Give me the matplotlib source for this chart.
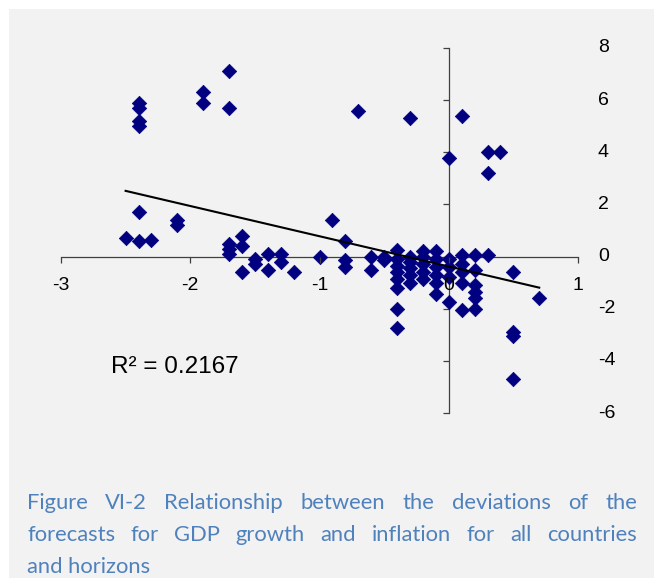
"""
Scatter of forecast deviations: GDP growth (x) vs inflation (y), with linear trend.
Excel-style look: axes crossing at zero, y labels at the far right, caption below.
"""

import numpy as np
import matplotlib
matplotlib.use("Agg")
import matplotlib.pyplot as plt
from matplotlib.patches import Rectangle

W, H = 654, 578

# deviations (x = GDP growth, y = inflation)
gdp_dev = [-2.4, -2.4, -2.4, -2.4, -1.9, -1.9, -1.7, -1.7, -0.7, -0.3, 0.1, 0.0, 0.3, 0.4, 0.3,
           -2.4, -2.5, -2.4, -2.3, -2.1, -2.1, -1.7, -1.7, -1.7, -1.6, -1.6, -1.6,
           -1.5, -1.5, -1.4, -1.4, -1.3, -1.3, -1.2, -1.0, -0.9, -0.8, -0.8, -0.8,
           -0.6, -0.6, -0.5, -0.5,
           -0.4, -0.4, -0.4, -0.4, -0.4, -0.4, -0.4, -0.4,
           -0.3, -0.3, -0.3, -0.3, -0.3,
           -0.2, -0.2, -0.2, -0.2, -0.2,
           -0.1, -0.1, -0.1, -0.1, -0.1, -0.1,
           0.0, 0.0, 0.0, 0.0,
           0.1, 0.1, 0.1, 0.1, 0.1,
           0.2, 0.2, 0.2, 0.2, 0.2, 0.2,
           0.3, 0.5, 0.5, 0.5, 0.5, 0.7]
infl_dev = [5.9, 5.7, 5.2, 5.0, 6.3, 5.9, 7.1, 5.7, 5.6, 5.3, 5.4, 3.8, 4.0, 4.0, 3.2,
            1.7, 0.7, 0.6, 0.65, 1.4, 1.2, 0.5, 0.3, 0.1, 0.8, 0.4, -0.6,
            -0.1, -0.3, 0.1, -0.5, 0.1, -0.2, -0.6, 0.0, 1.4, 0.6, -0.15, -0.4,
            0.0, -0.5, -0.15, 0.0,
            0.25, -0.1, -0.35, -0.6, -0.85, -1.2, -2.0, -2.75,
            0.0, -0.2, -0.45, -0.7, -1.0,
            0.2, 0.0, -0.3, -0.6, -0.85,
            0.2, -0.1, -0.4, -0.7, -1.0, -1.45,
            -0.1, -0.4, -0.8, -1.75,
            0.05, -0.3, -0.6, -1.0, -2.05,
            0.05, -0.5, -1.1, -1.35, -1.6, -2.0,
            0.05, -0.6, -2.9, -3.05, -4.7, -1.6]

# Excel linear trendline as drawn (slope / intercept)
trend_slope = -1.16
trend_intercept = -0.38

x_ticks = [-3, -2, -1, 0, 1]
y_ticks = [-6, -4, -2, 0, 2, 4, 6, 8]
r2_label = "R² = 0.2167"
caption_lines = ["Figure VI-2 Relationship between the deviations of the",
                 "forecasts for GDP growth and inflation for all countries",
                 "and horizons"]

plt.rcParams["font.family"] = ["Liberation Sans", "DejaVu Sans"]

fig = plt.figure(figsize=(W / 100, H / 100), dpi=100)
fig.patch.set_facecolor("white")
# grey page area (white strip on top and left), kept under the axes
fig.patches.append(Rectangle((9 / W, 0), 1, 1 - 9 / H, transform=fig.transFigure,
                             facecolor="#f2f2f2", edgecolor="none", zorder=-1))

# plot area: x -3..1 -> px 61..578, y -6..8 -> px 413..48
ax = fig.add_axes([61 / W, (H - 413) / H, (578 - 61) / W, (413 - 48) / H])
ax.set_facecolor("none")
ax.set_xlim(-3, 1)
ax.set_ylim(-6, 8)

ax.scatter(gdp_dev, infl_dev, marker="D", s=54, color="#000080",
           edgecolors="#000080", linewidths=0.5, zorder=3, clip_on=False)

# trendline spans the data range
xs = np.array([min(gdp_dev), max(gdp_dev)])
ax.plot(xs, trend_slope * xs + trend_intercept, color="black", lw=1.5, zorder=4)

ax.text(-2.61, -4.25, r2_label, fontsize=17.5, color="black", ha="left", va="center")

# axes crossing at zero
for s in ("top", "right"):
    ax.spines[s].set_visible(False)
ax.spines["left"].set_position(("data", 0))
ax.spines["bottom"].set_position(("data", 0))
for s in ("left", "bottom"):
    ax.spines[s].set_color("#404040")
    ax.spines[s].set_linewidth(0.9)

ax.set_xticks(x_ticks)
ax.set_xticklabels([str(t) for t in x_ticks])
ax.set_yticks(y_ticks)
ax.tick_params(axis="x", direction="out", length=4, width=0.9, color="#404040",
               labelsize=14, pad=10.5)
ax.tick_params(axis="y", direction="out", length=4, width=0.9, color="#404040",
               labelleft=False)
ax.xaxis.set_zorder(5)

# y labels sit at the far right, as Excel does with "high" label position
ytr = ax.get_yaxis_transform()
for t in y_ticks:
    ax.text((598 - 61) / (578 - 61), t, str(t), transform=ytr, fontsize=14,
            ha="left", va="center")

# justified caption
cap_color = "#4f81bd"
cap_font = ["Lato", "DejaVu Sans"]
cap_size = 15.8
left_px, right_px = 27, 637
baselines = [509, 541, 573]

fig.canvas.draw()
renderer = fig.canvas.get_renderer()


def width_px(s):
    t = fig.text(0, 0, s, fontsize=cap_size, family=cap_font)
    w = t.get_window_extent(renderer).width
    t.remove()
    return w


for i, (line, base) in enumerate(zip(caption_lines, baselines)):
    yf = 1 - base / H
    if i == len(caption_lines) - 1:
        fig.text(left_px / W, yf, line, fontsize=cap_size, family=cap_font,
                 color=cap_color, va="baseline")
        continue
    words = line.split()
    widths = [width_px(w) for w in words]
    gap = (right_px - left_px - sum(widths)) / (len(words) - 1)
    x = left_px
    for w, ww in zip(words, widths):
        fig.text(x / W, yf, w, fontsize=cap_size, family=cap_font,
                 color=cap_color, va="baseline")
        x += ww + gap

fig.savefig("out.png", dpi=100, facecolor="white")
